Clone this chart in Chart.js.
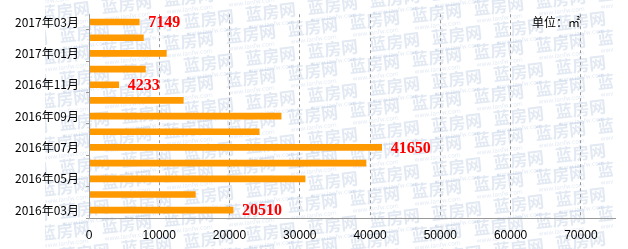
<!DOCTYPE html>
<html>
<head>
<meta charset="utf-8">
<script src="https://cdn.jsdelivr.net/npm/chart.js@4"></script>
<style>
  html, body { margin: 0; padding: 0; background: #fff; }
  #wrap { width: 628px; height: 249px; position: relative; }
</style>
</head>
<body>
<div id="wrap"><canvas id="area-chart"></canvas></div>
<script>
// 月份（由舊到新，圖上由下往上）
const months = ['2016年03月', '2016年04月', '2016年05月', '2016年06月', '2016年07月', '2016年08月', '2016年09月',
                '2016年10月', '2016年11月', '2016年12月', '2017年01月', '2017年02月', '2017年03月'];
// 成交面積
const areas = [20510, 15130, 30750, 39420, 41650, 24220, 27340, 13420, 4233, 8025, 11010, 7740, 7149];
const xTicks = [0, 10000, 20000, 30000, 40000, 50000, 60000, 70000];
const xMax = 75000;
const unitText = '单位：㎡';

const CJK = '"Noto Sans CJK SC", "DejaVu Sans", sans-serif';

// 標出首、尾、最大、最小
function _markedIndexes() {
  const maxI = areas.indexOf(Math.max(...areas));
  const minI = areas.indexOf(Math.min(...areas));
  return [...new Set([0, areas.length - 1, maxI, minI])];
}

const backdrop = {
  id: 'backdrop',
  beforeDraw(chart) {
    const { ctx, width, height } = chart;
    ctx.save();
    ctx.fillStyle = '#fff';
    ctx.fillRect(0, 0, width, height);
    // 淡水印
    ctx.beginPath();
    ctx.rect(45, 0, 568, height);
    ctx.clip();
    for (let r = -2; r < 14; r++) {
      for (let c = -1; c < 12; c++) {
        ctx.save();
        ctx.translate(40 + c * 62 + (r % 2) * 20, 20 + r * 22 - c * 7);
        ctx.rotate(-0.11);
        ctx.fillStyle = 'rgba(110,145,195,0.2)';
        ctx.font = 'bold 17px ' + CJK;
        ctx.textBaseline = 'alphabetic';
        ctx.fillText('蓝房网', 0, 0);
        ctx.font = '6px "DejaVu Sans"';
        ctx.fillText('www.lanfw.com', 2, 8);
        ctx.restore();
      }
    }
    ctx.restore();
  },
  afterDatasetsDraw(chart) {
    const { ctx, chartArea } = chart;
    const meta = chart.getDatasetMeta(0);
    ctx.save();
    // 實線座標軸
    ctx.strokeStyle = '#999';
    ctx.lineWidth = 1;
    ctx.setLineDash([]);
    ctx.beginPath();
    ctx.moveTo(Math.round(chartArea.left) + 0.5, chartArea.top);
    ctx.lineTo(Math.round(chartArea.left) + 0.5, Math.round(chartArea.bottom) + 0.5);
    ctx.lineTo(chartArea.right, Math.round(chartArea.bottom) + 0.5);
    ctx.stroke();

    ctx.font = 'bold 16px "Liberation Serif", serif';
    ctx.fillStyle = '#ff0000';
    ctx.textAlign = 'left';
    ctx.textBaseline = 'middle';
    _markedIndexes().forEach(i => {
      const bar = meta.data[i];
      ctx.fillText(String(areas[i]), bar.x + 9, bar.y + 1);
    });
    ctx.font = '12px ' + CJK;
    ctx.fillStyle = '#000';
    ctx.textAlign = 'right';
    ctx.fillText(unitText, 580, 22);
    ctx.restore();
  }
};

new Chart(document.getElementById('area-chart'), {
  type: 'bar',
  data: {
    labels: months,
    datasets: [{
      data: areas,
      backgroundColor: '#ff9900',
      borderWidth: 0,
      barThickness: 6
    }]
  },
  options: {
    indexAxis: 'y',
    responsive: true,
    maintainAspectRatio: false,
    animation: false,
    layout: { padding: { top: 10, right: 12, left: 0, bottom: 0 } },
    plugins: { legend: { display: false }, tooltip: { enabled: false } },
    scales: {
      x: {
        min: 0,
        max: xMax,
        afterFit: s => { s.height = 31; },
        afterBuildTicks: s => { s.ticks = xTicks.map(v => ({ value: v })); },
        border: { display: false, dash: [3, 3] },
        grid: {
          drawTicks: false,
          color: c => (c.tick && c.tick.value === 0 ? 'rgba(0,0,0,0)' : '#999')
        },
        ticks: {
          padding: 10,
          color: '#000',
          font: { family: 'Liberation Sans', size: 12 },
          callback: v => String(v)
        }
      },
      y: {
        reverse: true,
        afterFit: s => { s.width = 89; },
        border: { display: false },
        grid: {
          offset: true,
          drawOnChartArea: false,
          tickLength: 3,
          tickColor: c => (c.index % 2 === 0 ? '#999' : 'rgba(0,0,0,0)')
        },
        ticks: {
          autoSkip: false,
          padding: 7,
          color: '#000',
          font: { family: CJK, size: 12 },
          callback: (v, i) => (i % 2 === 0 ? months[i] : '')
        }
      }
    }
  },
  plugins: [backdrop]
});
</script>
</body>
</html>
